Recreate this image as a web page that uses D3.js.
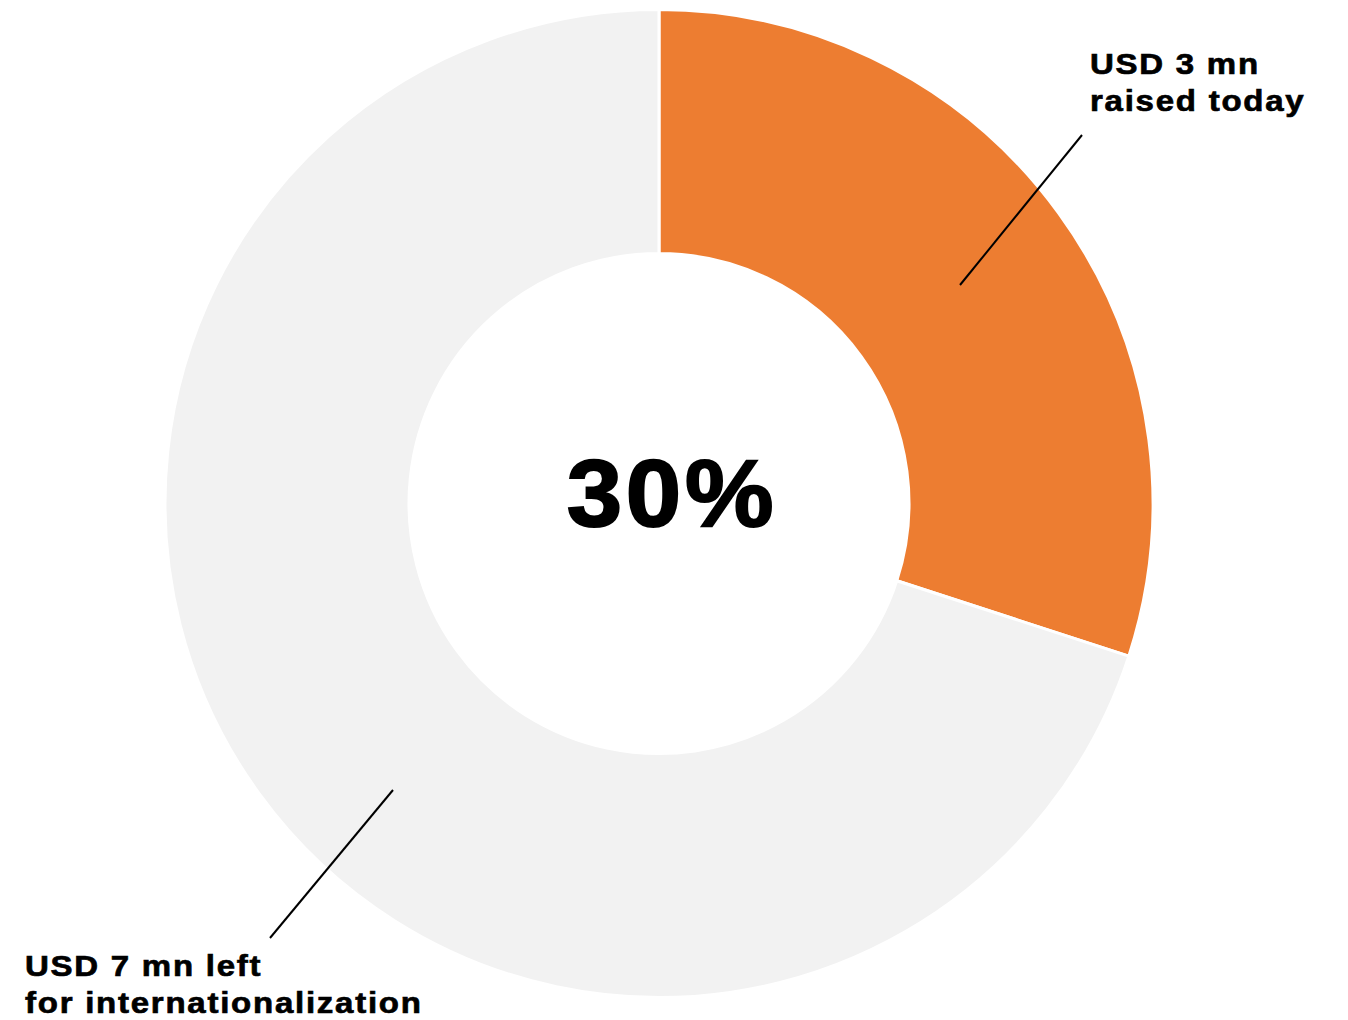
<!DOCTYPE html>
<html>
  <head>
    <meta charset="utf-8">
    <style type="text/css">
      body { margin: 0; background: #fff; }
      .label { font-family: "Liberation Sans", Arial, sans-serif; font-weight: bold; font-size: 30px; letter-spacing: 1.6px; fill: #000; stroke: #000; stroke-width: 0.7px; }
      .center { font-family: "Liberation Sans", Arial, sans-serif; font-weight: bold; font-size: 94px; letter-spacing: 3.5px; fill: #000; stroke: #000; stroke-width: 2px; }
      .leader { stroke: #000; stroke-width: 2; fill: none; }
    </style>
  </head>
  <body>
    <script src="https://d3js.org/d3.v7.min.js"></script>
    <script>
      // data
      var categories = ["raised", "left"];
      var values = [3, 7];
      var colors = ["#ED7D31", "#F2F2F2"];
      var centerLabel = "30%";
      var labels = [
        ["USD 3 mn", "raised today"],
        ["USD 7 mn left", "for internationalization"]
      ];

      var width = 1348;
      var height = 1020;
      var cx = 659, cy = 503.5;
      var outer = 494, inner = 250;

      var svg = d3.select("body")
                  .append("svg")
                  .attr("width", width)
                  .attr("height", height);

      var pie = d3.pie().sort(null).value(function(d) { return d; });
      var arc = d3.arc().innerRadius(inner).outerRadius(outer);

      var g = svg.append("g").attr("transform", "translate(" + cx + "," + cy + ")");

      g.selectAll("path")
        .data(pie(values))
      .enter()
        .append("path")
        .attr("d", arc)
        .style("fill", function(d, i) { return colors[i]; })
        .style("stroke", "#fff")
        .style("stroke-width", 3);

      // big percentage, slightly widened to look like the original font
      g.append("text")
        .attr("class", "center")
        .attr("transform", "translate(13,22) scale(1.06,1)")
        .attr("text-anchor", "middle")
        .text(centerLabel);

      // leader lines
      svg.append("line").attr("class", "leader")
        .attr("x1", 1082).attr("y1", 135).attr("x2", 960).attr("y2", 285);
      svg.append("line").attr("class", "leader")
        .attr("x1", 270).attr("y1", 938).attr("x2", 393).attr("y2", 790);

      var pos = [[1090, 74], [25, 976]];
      labels.forEach(function(lines, i) {
        var t = svg.append("text").attr("class", "label")
          .attr("transform", "translate(" + pos[i][0] + "," + pos[i][1] + ") scale(1.1,1)");
        lines.forEach(function(s, j) {
          t.append("tspan").attr("x", 0).attr("dy", j ? 37 : 0).text(s);
        });
      });
    </script>
  </body>
</html>
